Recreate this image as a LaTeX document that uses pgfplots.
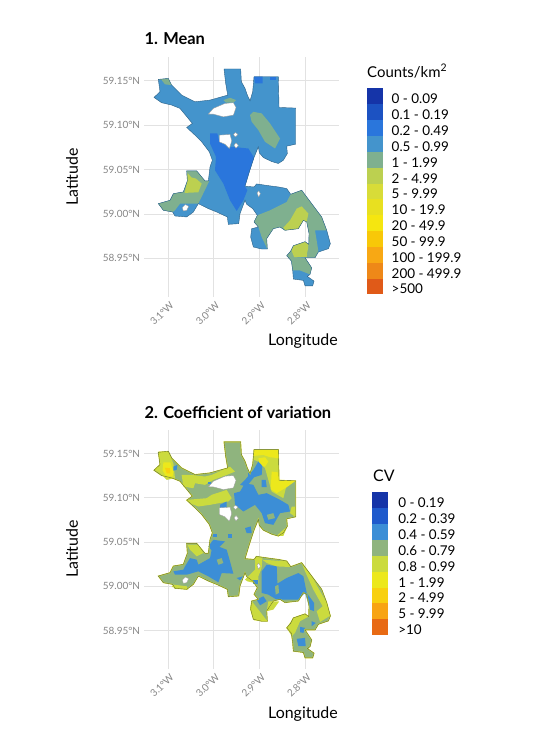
\documentclass[border=0pt]{standalone}
\usepackage{fontspec}
\setmainfont{Lato}
\usepackage{pgfplots}
\usepackage{pgfplotstable}
\pgfplotsset{compat=1.18}
\definecolor{ca}{HTML}{1534A8}
\definecolor{cb}{HTML}{1C52C2}
\definecolor{cc}{HTML}{2A76DC}
\definecolor{cd}{HTML}{4494CC}
\definecolor{ce}{HTML}{7FB08F}
\definecolor{cf}{HTML}{BCD050}
\definecolor{cg}{HTML}{D8DC38}
\definecolor{ch}{HTML}{E8E020}
\definecolor{ci}{HTML}{F5E610}
\definecolor{cj}{HTML}{F8C808}
\definecolor{ck}{HTML}{F8A814}
\definecolor{cl}{HTML}{EE8818}
\definecolor{cm}{HTML}{E05A18}
\definecolor{va}{HTML}{1534A8}
\definecolor{vb}{HTML}{1F5ACC}
\definecolor{vc}{HTML}{3C8ED6}
\definecolor{vd}{HTML}{8FB47E}
\definecolor{ve}{HTML}{CBDB3E}
\definecolor{vf}{HTML}{ECE81C}
\definecolor{vg}{HTML}{F8D010}
\definecolor{vh}{HTML}{F8A414}
\definecolor{vi}{HTML}{E86A14}
\definecolor{gridc}{HTML}{E2E2E2}
\definecolor{tickc}{HTML}{858585}
\pgfplotstableread{
lon lat
-2.9774 59.1632
-2.9409 59.1632
-2.9394 59.1489
-2.9314 59.1414
-2.9263 59.1338
-2.9204 59.1274
-2.9146 59.1376
-2.9117 59.1545
-2.8584 59.1545
-2.8569 59.1199
-2.8204 59.1192
-2.8204 59.0786
-2.8401 59.0763
-2.8387 59.0680
-2.8474 59.0605
-2.8584 59.0568
-2.8730 59.0590
-2.8912 59.0635
-2.9000 59.0688
-2.9022 59.0756
-2.9117 59.0635
-2.9219 59.0474
-2.9314 59.0312
-2.9117 59.0304
-2.9058 59.0338
-2.8766 59.0316
-2.8584 59.0304
-2.8401 59.0286
-2.8314 59.0222
-2.8073 59.0267
-2.7854 59.0116
-2.7635 58.9966
-2.7525 58.9816
-2.7445 58.9665
-2.7489 58.9609
-2.7708 58.9571
-2.7781 58.9507
-2.8000 58.9507
-2.7854 58.9394
-2.7890 58.9319
-2.7949 58.9297
-2.7803 58.9244
-2.7832 58.9191
-2.8000 58.9191
-2.8036 58.9252
-2.8255 58.9267
-2.8270 58.9364
-2.8299 58.9470
-2.8401 58.9530
-2.8314 58.9582
-2.8255 58.9643
-2.8000 58.9688
-2.7919 58.9658
-2.7912 58.9778
-2.7963 58.9910
-2.8036 58.9928
-2.8146 58.9834
-2.8438 58.9816
-2.8547 58.9853
-2.8693 58.9834
-2.8839 58.9722
-2.8825 58.9605
-2.8949 58.9605
-2.9131 58.9628
-2.9190 58.9740
-2.9168 58.9834
-2.9022 58.9853
-2.9117 58.9910
-2.9044 58.9985
-2.9146 59.0060
-2.9277 59.0109
-2.9314 59.0154
-2.9423 59.0004
-2.9452 58.9891
-2.9679 58.9883
-2.9701 58.9966
-2.9934 59.0022
-3.0117 59.0060
-3.0336 59.0116
-3.0445 59.0022
-3.0591 58.9966
-3.0847 58.9977
-3.0898 59.0022
-3.1102 59.0041
-3.1212 59.0116
-3.0956 59.0154
-3.0883 59.0229
-3.0664 59.0248
-3.0577 59.0372
-3.0591 59.0485
-3.0372 59.0485
-3.0190 59.0372
-3.0117 59.0372
-3.0080 59.0530
-3.0029 59.0605
-3.0095 59.0699
-3.0263 59.0812
-3.0409 59.0887
-3.0591 59.0974
-3.0467 59.1019
-3.0737 59.1188
-3.0920 59.1226
-3.1139 59.1252
-3.1307 59.1312
-3.1175 59.1376
-3.1212 59.1515
-3.0993 59.1526
-3.0920 59.1451
-3.0701 59.1338
-3.0409 59.1263
-3.0080 59.1282
-2.9693 59.1338
-2.9737 59.1470
}\outline
\pgfplotsset{mapaxis/.style={
  scale only axis, width=194.7bp,
  xmin=-3.1519, xmax=-2.7256, ymin=58.9065, ymax=59.1767,
  axis line style={draw=none}, major tick length=0pt,
  grid=major, grid style={gridc,line width=0.9bp},
  xtick={-3.1,-3.0,-2.9,-2.8},
  xticklabels={3.1°W,3.0°W,2.9°W,2.8°W},
  ytick={58.95,59.00,59.05,59.10,59.15},
  yticklabels={58.95°N,59.00°N,59.05°N,59.10°N,59.15°N},
  tick label style={font=\fontsize{10}{11}\selectfont,text=tickc},
  x tick label style={rotate=45,anchor=north east,inner sep=1.5bp,yshift=-2bp},
  y tick label style={inner sep=1bp,xshift=-3bp},
  clip=false,
  xlabel=Longitude, ylabel=Latitude,
  label style={font=\fontsize{16}{18}\selectfont},
  title style={font=\fontsize{16.5}{18}\selectfont\bfseries,anchor=west,inner sep=0pt},
  legend cell align=left,
  legend image code/.code={\path[##1] (0bp,-7.92bp) rectangle (16bp,7.92bp);},
}}
\newcommand{\hole}[1]{\addplot[fill=white,draw=black!40,line width=0.3bp,forget plot] coordinates {#1} -- cycle;}
\newcommand{\patch}[2]{\addplot[fill=#1,draw=none,forget plot] coordinates {#2} -- cycle;}
\begin{document}
\begin{tikzpicture}
\path[use as bounding box] (0bp,0bp) rectangle (550bp,-756bp);
% ---------- panel 1
\begin{axis}[mapaxis, height=240bp, at={(144.3bp,-297bp)}, anchor=south west,
  title={1. Mean}, title style={at={(axis description cs:0,1.05)}},
  xlabel style={at={(axis description cs:0.815,-0.183)},anchor=center},
  ylabel style={at={(axis description cs:-0.371,0.5)},anchor=center},
  legend style={at={(rel axis cs:1.1438,0.8688)},anchor=north west,draw=none,fill=none,inner sep=0pt,outer sep=0pt,row sep=0pt,
    font=\fontsize{13.5}{15}\selectfont,
    nodes={inner sep=0pt,outer sep=0pt,text height=8bp,text depth=0pt,yshift=-3.5bp},
    /tikz/every odd column/.append style={column sep=8.7bp}},
]
\addplot[fill=cd,draw=none,forget plot] table[x=lon,y=lat] {\outline} -- cycle;
\patch{cc}{(-3.0080,59.0906)(-2.9920,59.0906)(-2.9876,59.0812)(-2.9752,59.0774)(-2.9679,59.0737)(-2.9606,59.0756)(-2.9241,59.0737)(-2.9117,59.0635)(-2.9219,59.0474)(-2.9314,59.0312)(-2.9263,59.0267)(-2.9350,59.0154)(-2.9496,59.0034)(-2.9642,59.0154)(-2.9788,59.0342)(-2.9971,59.0492)(-2.9949,59.0643)(-3.0080,59.0793)}
\patch{ce}{(-2.9204,59.1113)(-2.9131,59.1150)(-2.8949,59.1132)(-2.8766,59.1019)(-2.8547,59.0850)(-2.8657,59.0737)(-2.8876,59.0812)(-2.9022,59.0944)(-2.9168,59.1038)}
\patch{ce}{(-3.1212,59.0116)(-3.0956,59.0154)(-3.0883,59.0229)(-3.0664,59.0248)(-3.0577,59.0372)(-3.0591,59.0485)(-3.0372,59.0485)(-3.0190,59.0372)(-3.0095,59.0372)(-3.0212,59.0248)(-3.0336,59.0116)(-3.0737,59.0116)(-3.0847,59.0041)(-3.0898,59.0022)(-3.1102,59.0041)}
\patch{cf}{(-3.0577,59.0462)(-3.0482,59.0410)(-3.0387,59.0398)(-3.0263,59.0342)(-3.0336,59.0244)(-3.0635,59.0237)(-3.0577,59.0372)}
\patch{ce}{(-3.1212,59.1515)(-3.0993,59.1526)(-3.0920,59.1451)(-3.1066,59.1459)(-3.1139,59.1508)}
\patch{ce}{(-2.9788,59.1282)(-2.9642,59.1308)(-2.9511,59.1282)(-2.9569,59.1252)(-2.9730,59.1252)}
\patch{cc}{(-2.9117,59.1545)(-2.8927,59.1545)(-2.8927,59.1470)(-2.9095,59.1470)}
\patch{cc}{(-2.8766,59.1545)(-2.8642,59.1545)(-2.8642,59.1508)(-2.8766,59.1508)}
\patch{ce}{(-2.9117,58.9910)(-2.9044,58.9985)(-2.8766,59.0041)(-2.8401,59.0135)(-2.8314,59.0222)(-2.8073,59.0267)(-2.7854,59.0116)(-2.7635,58.9966)(-2.7525,58.9816)(-2.7781,58.9816)(-2.7708,58.9582)(-2.7781,58.9507)(-2.7963,58.9507)(-2.7919,58.9658)(-2.7912,58.9778)(-2.7963,58.9910)(-2.8036,58.9928)(-2.8146,58.9834)(-2.8438,58.9816)(-2.8547,58.9853)(-2.8693,58.9834)(-2.8839,58.9722)(-2.8825,58.9605)(-2.8949,58.9740)(-2.9022,58.9853)}
\patch{cf}{(-2.8182,59.0060)(-2.8073,59.0086)(-2.7927,59.0004)(-2.7963,58.9910)(-2.8036,58.9928)(-2.8146,58.9834)(-2.8438,58.9816)(-2.8474,58.9846)(-2.8328,58.9928)}
\patch{ce}{(-2.8401,58.9530)(-2.8299,58.9590)(-2.8241,58.9515)(-2.8000,58.9507)(-2.7854,58.9394)(-2.7890,58.9319)(-2.8109,58.9364)(-2.8270,58.9364)(-2.8299,58.9470)}
\patch{cf}{(-2.8299,58.9590)(-2.8255,58.9643)(-2.8000,58.9688)(-2.7919,58.9658)(-2.7963,58.9515)(-2.8241,58.9515)}
\addplot[draw=black!35!cd,line width=0.4bp,forget plot] table[x=lon,y=lat] {\outline} -- cycle;
\hole{(-3.0117,59.1124)(-3.0007,59.1188)(-2.9752,59.1244)(-2.9569,59.1252)(-2.9511,59.1199)(-2.9569,59.1113)(-2.9788,59.1094)(-3.0007,59.1124)}
\hole{(-2.9876,59.0887)(-2.9642,59.0895)(-2.9606,59.0823)(-2.9657,59.0737)(-2.9752,59.0786)(-2.9876,59.0812)}
\hole{(-2.9569,59.0895)(-2.9525,59.0917)(-2.9467,59.0895)(-2.9525,59.0868)}
\hole{(-2.9554,59.0774)(-2.9511,59.0801)(-2.9460,59.0771)(-2.9511,59.0740)}
\hole{(-2.9051,59.0237)(-2.9014,59.0259)(-2.8978,59.0229)(-2.9014,59.0192)}
\hole{(-3.0686,59.0071)(-3.0620,59.0105)(-3.0547,59.0086)(-3.0591,59.0041)(-3.0664,59.0034)}
\addlegendimage{fill=ca,draw=none}\addlegendentry{0 - 0.09}
\addlegendimage{fill=cb,draw=none}\addlegendentry{0.1 - 0.19}
\addlegendimage{fill=cc,draw=none}\addlegendentry{0.2 - 0.49}
\addlegendimage{fill=cd,draw=none}\addlegendentry{0.5 - 0.99}
\addlegendimage{fill=ce,draw=none}\addlegendentry{1 - 1.99}
\addlegendimage{fill=cf,draw=none}\addlegendentry{2 - 4.99}
\addlegendimage{fill=cg,draw=none}\addlegendentry{5 - 9.99}
\addlegendimage{fill=ch,draw=none}\addlegendentry{10 - 19.9}
\addlegendimage{fill=ci,draw=none}\addlegendentry{20 - 49.9}
\addlegendimage{fill=cj,draw=none}\addlegendentry{50 - 99.9}
\addlegendimage{fill=ck,draw=none}\addlegendentry{100 - 199.9}
\addlegendimage{fill=cl,draw=none}\addlegendentry{200 - 499.9}
\addlegendimage{fill=cm,draw=none}\addlegendentry{>500}
\node[anchor=west,inner sep=0pt,font=\fontsize{15}{18}\selectfont] at (rel axis cs:1.1438,0.9417) {Counts/km\textsuperscript{2}};
\end{axis}
% ---------- panel 2
\begin{axis}[mapaxis, height=239bp, at={(144.3bp,-669bp)}, anchor=south west,
  title={2. Coefficient of variation}, title style={at={(axis description cs:0,1.05)}},
  xlabel style={at={(axis description cs:0.815,-0.188)},anchor=center},
  ylabel style={at={(axis description cs:-0.371,0.502)},anchor=center},
  legend style={at={(rel axis cs:1.1710,0.7386)},anchor=north west,draw=none,fill=none,inner sep=0pt,outer sep=0pt,row sep=0pt,
    font=\fontsize{13.5}{15}\selectfont,
    nodes={inner sep=0pt,outer sep=0pt,text height=8bp,text depth=0pt,yshift=-3.5bp},
    /tikz/every odd column/.append style={column sep=10bp}},
]
\addplot[fill=vd,draw=none,forget plot] table[x=lon,y=lat] {\outline} -- cycle;
% 0.8-0.99
\patch{ve}{(-3.1211,59.1523)(-3.0993,59.1523)(-3.0883,59.1391)(-3.0847,59.1222)(-3.1029,59.1203)(-3.1175,59.1278)(-3.1306,59.1316)(-3.1175,59.1372)}
\patch{ve}{(-3.0701,59.1259)(-3.0482,59.1259)(-3.0190,59.1241)(-3.0044,59.1259)(-2.9642,59.1353)(-2.9532,59.1297)(-2.9715,59.1259)(-3.0007,59.1203)(-3.0190,59.1147)(-3.0409,59.1165)(-3.0445,59.1109)(-3.0664,59.1128)}
\patch{ve}{(-3.0591,59.0977)(-3.0153,59.0996)(-3.0044,59.1034)(-2.9715,59.1090)(-2.9606,59.0996)(-2.9679,59.0959)(-3.0080,59.0921)(-3.0336,59.0902)(-3.0482,59.0932)}
\patch{ve}{(-2.9116,59.1541)(-2.8583,59.1541)(-2.8569,59.1203)(-2.8204,59.1195)(-2.8401,59.1147)(-2.8474,59.0996)(-2.8730,59.1071)(-2.8803,59.1203)(-2.8876,59.1335)(-2.9022,59.1410)(-2.9116,59.1429)}
\patch{ve}{(-2.8292,59.0902)(-2.8204,59.0902)(-2.8204,59.0782)(-2.8328,59.0827)}
\patch{ve}{(-2.9314,59.0075)(-2.9095,59.0188)(-2.9095,59.0338)(-2.8934,59.0319)(-2.8949,59.0207)(-2.9022,59.0113)(-2.9022,59.0030)(-2.9263,59.0056)}
\patch{ve}{(-2.8934,59.0301)(-2.8401,59.0282)(-2.8313,59.0218)(-2.8620,59.0225)(-2.8839,59.0263)}
\patch{ve}{(-2.8073,59.0263)(-2.7854,59.0113)(-2.7525,58.9812)(-2.7445,58.9669)(-2.7671,58.9597)(-2.7744,58.9718)(-2.7613,58.9774)(-2.7817,58.9962)(-2.8000,59.0169)}
\patch{ve}{(-2.8401,58.9530)(-2.8255,58.9643)(-2.8000,58.9688)(-2.7912,58.9661)(-2.8109,58.9605)(-2.8219,58.9473)(-2.8292,58.9436)}
\patch{ve}{(-2.9167,58.9831)(-2.9022,58.9737)(-2.8824,58.9605)(-2.9116,58.9616)(-2.9204,58.9755)}
\patch{ve}{(-2.8803,58.9831)(-2.8562,58.9831)(-2.8693,58.9737)(-2.8839,58.9718)}
\patch{ve}{(-3.0576,59.0470)(-3.0336,59.0470)(-3.0226,59.0376)(-3.0372,59.0338)(-3.0518,59.0413)}
\patch{ve}{(-2.8474,59.0639)(-2.8387,59.0677)(-2.8474,59.0571)(-2.8620,59.0571)}
\patch{ve}{(-3.0883,59.0019)(-3.0591,59.0000)(-3.0555,58.9962)(-3.0920,58.9992)}
% 1-1.99
\patch{vf}{(-2.9116,59.1541)(-2.8583,59.1541)(-2.8569,59.1447)(-2.8766,59.1459)(-2.8912,59.1485)(-2.9116,59.1474)}
\patch{vf}{(-2.9022,59.1447)(-2.8876,59.1459)(-2.8803,59.1410)(-2.8876,59.1353)(-2.8985,59.1361)}
\patch{vf}{(-2.8730,59.1297)(-2.8569,59.1286)(-2.8569,59.1195)(-2.8219,59.1188)(-2.8401,59.1120)(-2.8620,59.1053)(-2.8751,59.1098)}
\patch{vf}{(-3.1100,59.1400)(-3.0950,59.1400)(-3.0880,59.1300)(-3.0900,59.1240)(-3.1040,59.1240)(-3.1120,59.1310)}
\patch{vg}{(-3.1066,59.1340)(-3.0960,59.1335)(-3.0950,59.1278)(-3.1029,59.1278)}
% 0.4-0.59
\patch{vc}{(-3.0627,59.0225)(-3.0518,59.0319)(-3.0372,59.0301)(-3.0336,59.0244)(-3.0080,59.0319)(-3.0044,59.0413)(-2.9897,59.0451)(-2.9715,59.0413)(-2.9642,59.0282)(-2.9569,59.0143)(-2.9825,59.0150)(-2.9897,59.0045)(-3.0117,59.0113)(-3.0336,59.0169)(-3.0591,59.0131)(-3.0847,59.0131)(-3.0883,59.0169)(-3.0664,59.0188)}
\patch{vc}{(-3.0117,59.0451)(-3.0007,59.0526)(-2.9751,59.0507)(-2.9861,59.0451)(-3.0044,59.0406)}
\patch{vc}{(-2.9554,59.1053)(-2.9423,59.1071)(-2.9314,59.1165)(-2.9131,59.1147)(-2.9022,59.1034)(-2.8839,59.1053)(-2.8547,59.0977)(-2.8365,59.0921)(-2.8328,59.0846)(-2.8547,59.0827)(-2.8693,59.0695)(-2.8876,59.0714)(-2.8949,59.0827)(-2.9095,59.0921)(-2.9350,59.0846)(-2.9532,59.0921)}
\patch{vc}{(-2.9131,59.1316)(-2.9022,59.1410)(-2.8934,59.1361)(-2.8949,59.1259)(-2.9116,59.1233)(-2.9277,59.1128)(-2.9423,59.1147)(-2.9314,59.1203)}
\patch{vc}{(-2.8949,59.1203)(-2.8861,59.1203)(-2.8839,59.1120)(-2.8949,59.1120)}
\patch{vc}{(-2.9861,59.0921)(-2.9715,59.0959)(-2.9715,59.0883)(-2.9861,59.0865)}
\patch{vc}{(-2.9314,59.0658)(-2.9189,59.0677)(-2.9167,59.0601)(-2.9277,59.0601)}
\patch{vc}{(-2.8949,59.0169)(-2.8839,59.0244)(-2.8620,59.0225)(-2.8605,59.0030)(-2.8401,59.0094)(-2.8146,59.0150)(-2.8036,59.0113)(-2.7963,58.9925)(-2.7802,58.9812)(-2.7802,58.9718)(-2.7890,58.9737)(-2.8000,58.9925)(-2.8146,58.9849)(-2.8620,58.9849)(-2.8803,58.9906)(-2.8949,58.9925)}
\patch{vc}{(-2.9058,58.9849)(-2.8912,58.9887)(-2.8839,58.9831)(-2.8985,58.9785)}
\patch{vc}{(-2.8182,58.9406)(-2.8000,58.9417)(-2.7985,58.9323)(-2.8146,58.9323)}
\patch{vc}{(-2.8109,58.9541)(-2.8000,58.9530)(-2.8036,58.9473)(-2.8109,58.9481)}
\patch{vc}{(-2.7854,58.9605)(-2.7766,58.9586)(-2.7854,58.9549)}
\patch{vc}{(-3.0883,59.1353)(-3.0795,59.1372)(-3.0810,59.1316)(-3.0883,59.1308)}
\patch{vc}{(-2.9496,59.0094)(-2.9350,59.0113)(-2.9423,59.0067)}
\patch{vc}{(-2.9679,59.0594)(-2.9606,59.0594)(-2.9606,59.0545)(-2.9679,59.0545)}
\patch{vc}{(-3.0007,59.0594)(-2.9919,59.0594)(-2.9919,59.0556)(-3.0007,59.0556)}
\patch{vc}{(-2.9241,59.1278)(-2.9167,59.1278)(-2.9167,59.1241)(-2.9241,59.1241)}
\patch{vc}{(-3.0117,59.1184)(-3.0058,59.1184)(-3.0058,59.1158)(-3.0117,59.1158)}
\patch{vc}{(-2.9131,59.0067)(-2.9022,59.0067)(-2.9022,59.0030)(-2.9131,59.0030)}
\patch{vd}{(-2.8839,59.0808)(-2.8693,59.0827)(-2.8657,59.0771)(-2.8803,59.0752)}
\patch{vd}{(-2.8657,58.9999)(-2.8583,59.0019)(-2.8569,58.9925)(-2.8642,58.9906)}
\patch{vd}{(-2.9934,59.0301)(-2.9825,59.0319)(-2.9788,59.0263)(-2.9897,59.0244)}
\addplot[draw=vf,line width=0.9bp,forget plot] table[x=lon,y=lat] {\outline} -- cycle;
\addplot[draw=black!40!vd,line width=0.4bp,forget plot] table[x=lon,y=lat] {\outline} -- cycle;
\hole{(-3.0117,59.1124)(-3.0007,59.1188)(-2.9752,59.1244)(-2.9569,59.1252)(-2.9511,59.1199)(-2.9569,59.1113)(-2.9788,59.1094)(-3.0007,59.1124)}
\hole{(-2.9876,59.0887)(-2.9642,59.0895)(-2.9606,59.0823)(-2.9657,59.0737)(-2.9752,59.0786)(-2.9876,59.0812)}
\hole{(-2.9569,59.0895)(-2.9525,59.0917)(-2.9467,59.0895)(-2.9525,59.0868)}
\hole{(-2.9554,59.0774)(-2.9511,59.0801)(-2.9460,59.0771)(-2.9511,59.0740)}
\hole{(-2.9051,59.0237)(-2.9014,59.0259)(-2.8978,59.0229)(-2.9014,59.0192)}
\hole{(-3.0686,59.0071)(-3.0620,59.0105)(-3.0547,59.0086)(-3.0591,59.0041)(-3.0664,59.0034)}
\addlegendimage{fill=va,draw=none}\addlegendentry{0 - 0.19}
\addlegendimage{fill=vb,draw=none}\addlegendentry{0.2 - 0.39}
\addlegendimage{fill=vc,draw=none}\addlegendentry{0.4 - 0.59}
\addlegendimage{fill=vd,draw=none}\addlegendentry{0.6 - 0.79}
\addlegendimage{fill=ve,draw=none}\addlegendentry{0.8 - 0.99}
\addlegendimage{fill=vf,draw=none}\addlegendentry{1 - 1.99}
\addlegendimage{fill=vg,draw=none}\addlegendentry{2 - 4.99}
\addlegendimage{fill=vh,draw=none}\addlegendentry{5 - 9.99}
\addlegendimage{fill=vi,draw=none}\addlegendentry{>10}
\node[anchor=west,inner sep=0pt,font=\fontsize{16}{18}\selectfont] at (rel axis cs:1.1746,0.8075) {CV};
\end{axis}
\end{tikzpicture}
\end{document}
